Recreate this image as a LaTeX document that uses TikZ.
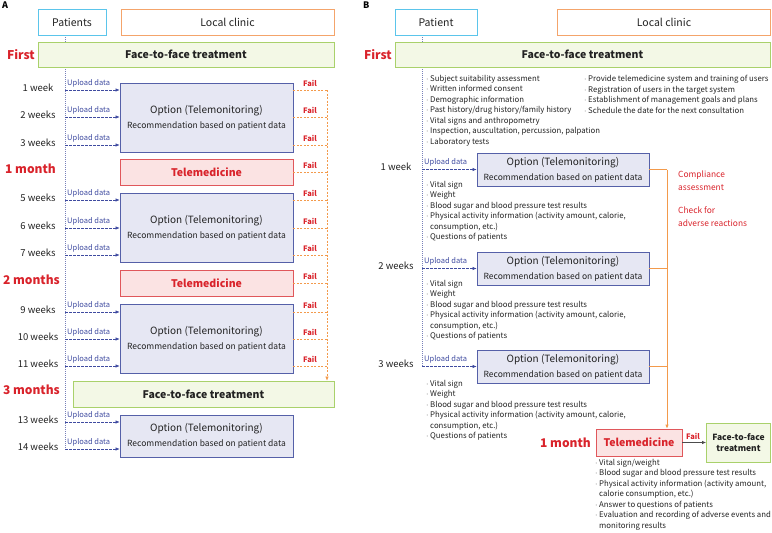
\documentclass[tikz,border=0pt]{standalone}
\usepackage{fontspec}
\setmainfont{Noto Sans CJK KR}
\usetikzlibrary{arrows.meta}
\definecolor{cyanb}{HTML}{5BC5EB}
\definecolor{orangeb}{HTML}{F4A46B}
\definecolor{greenb}{HTML}{A9D16B}
\definecolor{greenf}{HTML}{F3F8E6}
\definecolor{optf}{HTML}{E6E7F3}
\definecolor{optb}{HTML}{5560A8}
\definecolor{telf}{HTML}{FBE3E3}
\definecolor{telb}{HTML}{E0575B}
\definecolor{redt}{HTML}{D9232B}
\definecolor{bluet}{HTML}{3F4BA0}
\definecolor{orangea}{HTML}{F39A4B}
\definecolor{textc}{HTML}{222222}
\newcommand\bu{\makebox[4pt][l]{$\cdot$}}
\newcommand\bi{\hspace*{4pt}}
\newcommand\opttxt{{\fontsize{10}{12}\selectfont Option (Telemonitoring)}\\[3pt]{\fontsize{8.5}{10}\selectfont Recommendation based on patient data}}
\begin{document}
\begin{tikzpicture}[x=1pt,y=-1pt,
  box/.style={draw, inner sep=0pt, line width=0.7pt, align=center, text=textc},
  hdrP/.style={box, draw=cyanb, fill=white, font=\fontsize{10.5}{12}\selectfont},
  hdrC/.style={box, draw=orangeb, fill=white, font=\fontsize{10.5}{12}\selectfont},
  ftf/.style={box, draw=greenb, fill=greenf, font=\bfseries\fontsize{10.5}{12}\selectfont},
  optbox/.style={box, draw=optb, fill=optf},
  telbox/.style={box, draw=telb, fill=telf, text=redt, font=\bfseries\fontsize{10.5}{12}\selectfont},
  redlab/.style={text=redt, font=\bfseries\fontsize{12}{14}\selectfont, inner sep=0pt},
  wk/.style={font=\fontsize{9.5}{11}\selectfont, text=textc, inner sep=0pt},
  uplab/.style={font=\fontsize{7.5}{9}\selectfont, text=bluet, anchor=west, inner sep=0pt},
  faillab/.style={font=\bfseries\fontsize{7.5}{9}\selectfont, text=redt, inner sep=0pt},
  up/.style={draw=bluet, dash pattern=on 2.5pt off 1.5pt, line width=0.6pt, -{Latex[length=4pt,width=3.5pt]}},
  tline/.style={draw=optb!80, dash pattern=on 1pt off 1pt, line width=0.6pt},
  fl/.style={draw=orangea, dash pattern=on 2pt off 1.5pt, line width=0.6pt},
  ol/.style={draw=orangea, line width=0.8pt},
  blist/.style={anchor=north west, inner sep=0pt, align=left, font=\fontsize{7.8}{10.5}\selectfont, text=textc},
  panel/.style={font=\bfseries\fontsize{9}{10}\selectfont, anchor=north west, inner sep=0pt}
]
\useasboundingbox (0,0) rectangle (772,533);

% ================= Panel A =================
\node[panel] (lA) at (2,2) {A};
\coordinate (tA0) at (65,35);
\coordinate (tA1) at (65,449);
\draw[tline] (tA0) -- (tA1);

\node[hdrP, minimum width=68pt, minimum height=26pt] (patA) at (72,22) {Patients};
\node[hdrC, minimum width=213pt, minimum height=26pt] (clinA) at (227.5,22) {Local clinic};
\node[ftf, minimum width=296pt, minimum height=25pt] (f2fA1) at (186,54.5) {Face-to-face treatment};
\node[redlab, anchor=east] (firstA) at (35,54.5) {First};

\node[optbox, minimum width=173pt, minimum height=69pt] (optA1) at (206.5,117.5) {\opttxt};
\node[telbox, minimum width=173pt, minimum height=26pt] (telA1) at (206.5,172) {Telemedicine};
\node[optbox, minimum width=173pt, minimum height=69pt] (optA2) at (206.5,227.5) {\opttxt};
\node[telbox, minimum width=173pt, minimum height=26pt] (telA2) at (206.5,283) {Telemedicine};
\node[optbox, minimum width=173pt, minimum height=69pt] (optA3) at (206.5,338.5) {\opttxt};
\node[ftf, minimum width=261pt, minimum height=26pt] (f2fA2) at (203.5,394) {Face-to-face treatment};
\node[optbox, minimum width=173pt, minimum height=42pt] (optA4) at (206.5,436) {\opttxt};

\node[redlab, anchor=east] (m1A) at (56,169) {1 month};
\node[redlab, anchor=east] (m2A) at (60,280) {2 months};
\node[redlab, anchor=east] (m3A) at (60,390) {3 months};

\coordinate (fx) at (327,0);

% uploads and fails
\foreach \n/\y/\lab/\bx in {1/90/1 week/optA1, 2/117/2 weeks/optA1, 3/145/3 weeks/optA1,
  5/200/5 weeks/optA2, 6/228/6 weeks/optA2, 7/255/7 weeks/optA2,
  9/312/9 weeks/optA3, 10/339/10 weeks/optA3, 11/366/11 weeks/optA3}{
  \coordinate (uA\n) at (65,\y);
  \node[wk] (wA\n) at (38,\y-2) {\lab};
  \node[uplab] (ulA\n) at (67,\y-7) {Upload data};
  \draw[up] (uA\n) -- (uA\n -| \bx.west);
  \draw[fl] (uA\n -| \bx.east) -- (uA\n -| fx);
  \node[faillab] (fA\n) at (310,\y-7) {Fail};
}
\foreach \n/\y/\lab in {13/422/13 weeks, 14/449/14 weeks}{
  \coordinate (uA\n) at (65,\y);
  \node[wk] (wA\n) at (38,\y-2) {\lab};
  \node[uplab] (ulA\n) at (67,\y-7) {Upload data};
  \draw[up] (uA\n) -- (uA\n -| optA4.west);
}
\draw[fl] (telA1.east) -- (telA1.east -| fx);
\node[faillab] (fT1) at (310,165) {Fail};
\draw[fl] (telA2.east) -- (telA2.east -| fx);
\node[faillab] (fT2) at (310,276) {Fail};
\draw[fl, -{Latex[length=4pt,width=3.5pt]}] (fx |- uA1) -- (fx |- f2fA2.north);

% ================= Panel B =================
\node[panel] (lB) at (363,2) {B};
\coordinate (tB0) at (422,35);
\coordinate (tB1) at (422,366.5);
\draw[tline] (tB0) -- (tB1);

\node[hdrP, minimum width=82pt, minimum height=26pt] (patB) at (436,22) {Patient};
\node[hdrC, minimum width=213pt, minimum height=26pt] (clinB) at (664,22) {Local clinic};
\node[ftf, minimum width=375pt, minimum height=25pt] (f2fB) at (582.5,54.5) {Face-to-face treatment};
\node[redlab, anchor=east] (firstB) at (392,54.5) {First};

\node[blist] (lst0) at (426,75) {\bu Subject suitability assessment\\ \bu Written informed consent\\ \bu Demographic information\\ \bu Past history/drug history/family history\\ \bu Vital signs and anthropometry\\ \bu Inspection, auscultation, percussion, palpation\\ \bu Laboratory tests};
\node[blist] (lst0r) at (584,75) {\bu Provide telemedicine system and training of users\\ \bu Registration of users in the target system\\ \bu Establishment of management goals and plans\\ \bu Schedule the date for the next consultation};

\node[optbox, minimum width=172pt, minimum height=33pt] (optB1) at (563,169.5) {\opttxt};
\node[optbox, minimum width=172pt, minimum height=33pt] (optB2) at (563,268.5) {\opttxt};
\node[optbox, minimum width=172pt, minimum height=33pt] (optB3) at (563,366.5) {\opttxt};

\foreach \n/\y/\lab in {1/169.5/1 week, 2/268.5/2 weeks, 3/366.5/3 weeks}{
  \coordinate (uB\n) at (422,\y);
  \node[wk] (wB\n) at (396,\y-3) {\lab};
  \node[uplab] (ulB\n) at (424,\y-7) {Upload data};
  \draw[up] (uB\n) -- (uB\n -| optB\n.west);
}
\foreach \n/\y in {1/181, 2/280, 3/380}{
  \node[blist] (lstB\n) at (426,\y) {\bu Vital sign\\ \bu Weight\\ \bu Blood sugar and blood pressure test results\\ \bu Physical activity information (activity amount, calorie,\\ \bi consumption, etc.)\\ \bu Questions of patients};
}

\node[telbox, minimum width=86pt, minimum height=27pt] (telB) at (639,442.5) {Telemedicine};
\node[box, draw=greenb, fill=greenf, minimum width=64pt, minimum height=39pt, font=\bfseries\fontsize{8.5}{11}\selectfont] (f2fB2) at (738.5,442.5) {Face-to-face\\treatment};
\node[redlab, anchor=east] (m1B) at (591,442.5) {1 month};

\coordinate (vx) at (667,0);
\draw[ol] (optB1.east) -- (optB1.east -| vx);
\draw[ol] (optB2.east) -- (optB2.east -| vx);
\draw[ol] (optB3.east) -- (optB3.east -| vx);
\draw[ol, -{Latex[length=4pt,width=3.5pt]}] (optB1.east -| vx) -- (vx |- telB.north);

\node[anchor=north west, inner sep=0pt, align=left, text=redt, font=\fontsize{8.4}{13.5}\selectfont] (comp) at (678,170.5) {Compliance\\assessment};
\node[anchor=north west, inner sep=0pt, align=left, text=redt, font=\fontsize{8.4}{13.5}\selectfont] (adv) at (678,206.5) {Check for\\adverse reactions};

\draw[draw=black!70, line width=0.7pt, -{Latex[length=4pt,width=3.5pt]}] (telB.east) -- (f2fB2.west);
\node[faillab] (fB) at (693,436) {Fail};

\node[blist] (lstT) at (595,459) {\bu Vital sign/weight\\ \bu Blood sugar and blood pressure test results\\ \bu Physical activity information (activity amount,\\ \bi calorie consumption, etc.)\\ \bu Answer to questions of patients\\ \bu Evaluation and recording of adverse events and\\ \bi monitoring results};
\end{tikzpicture}
\end{document}
